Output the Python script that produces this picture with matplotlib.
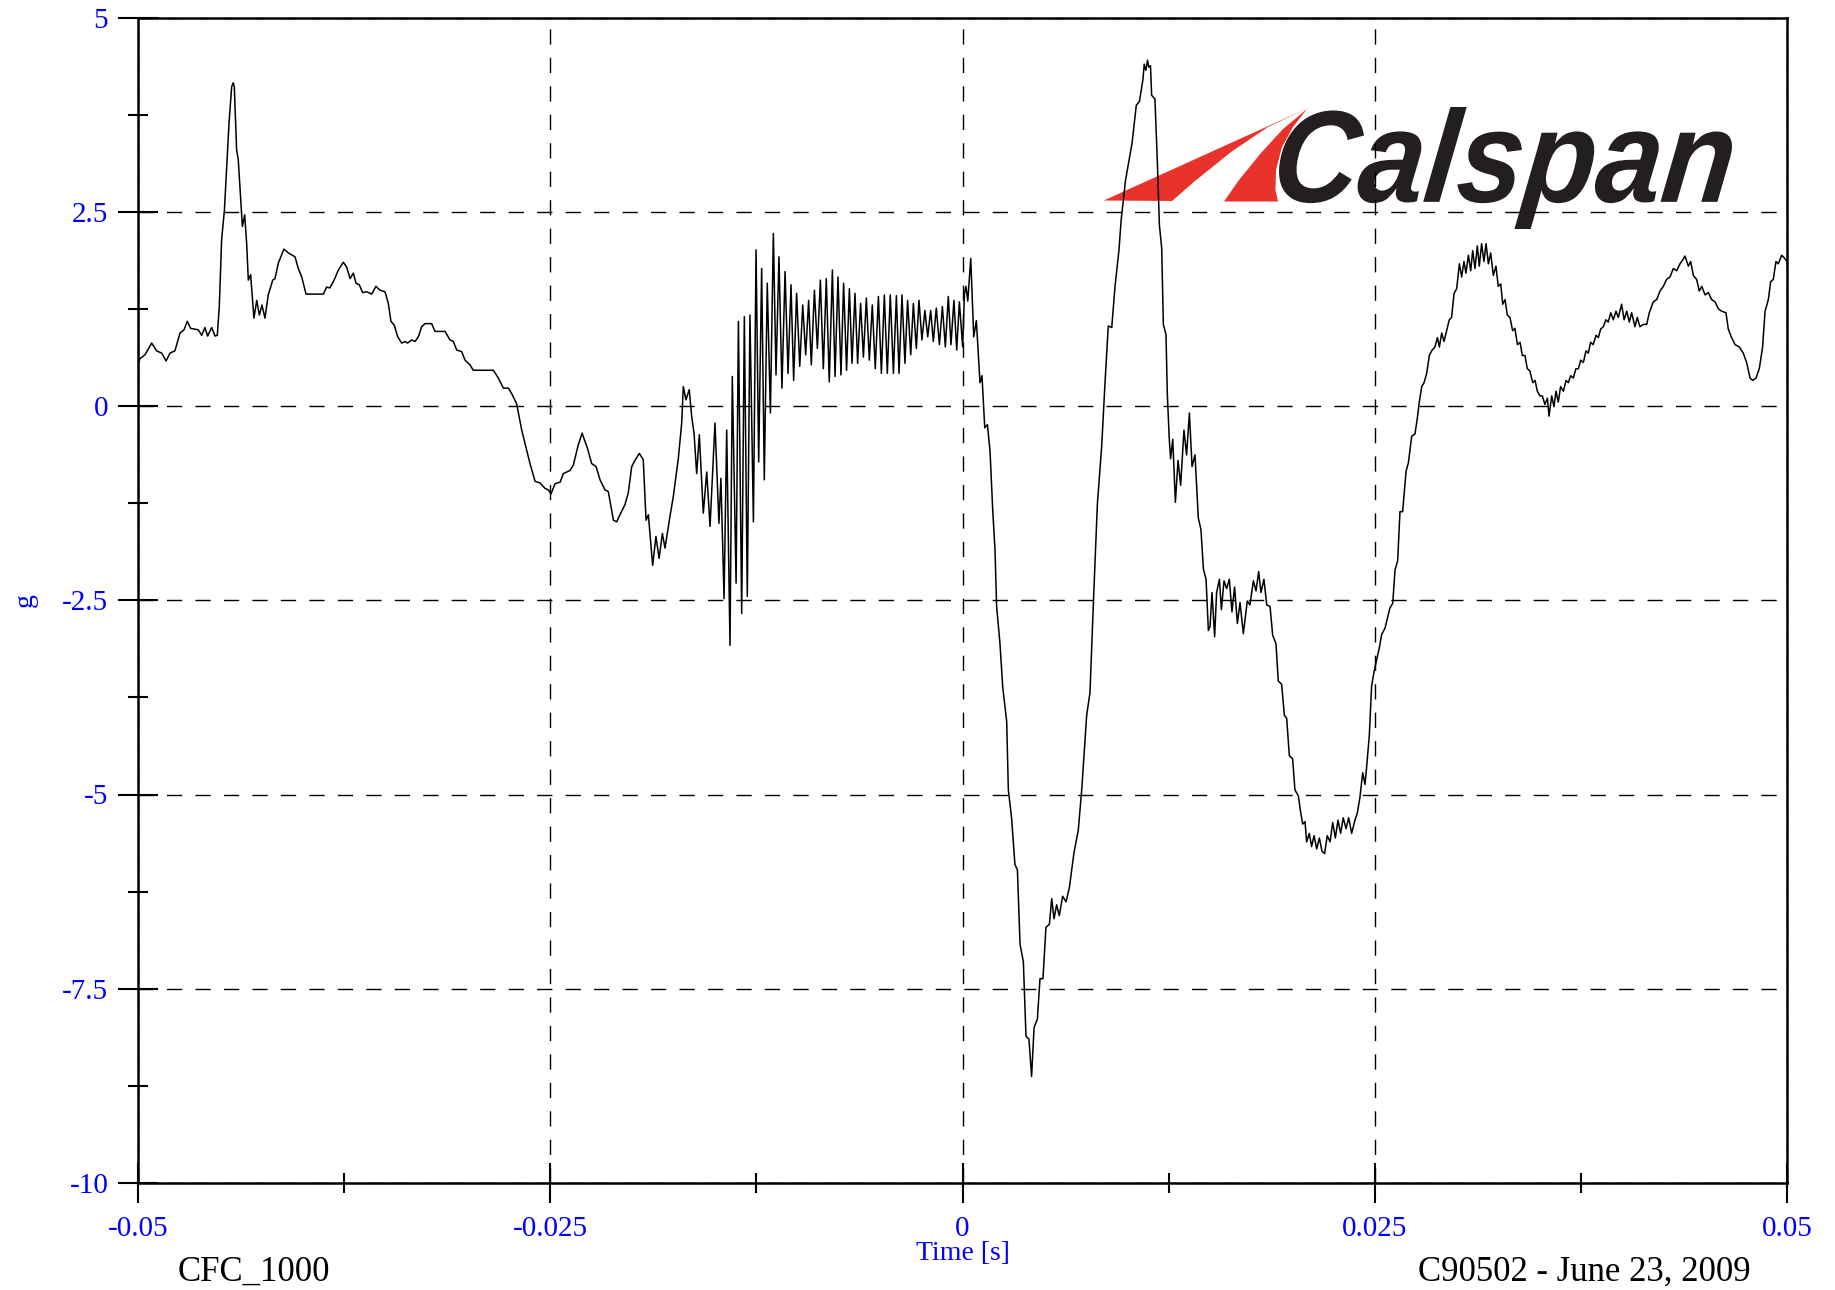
import matplotlib.pyplot as plt
import numpy as np
from matplotlib.patches import Polygon, PathPatch
from matplotlib.textpath import TextPath
from matplotlib.font_manager import FontProperties
from matplotlib.transforms import Affine2D
from matplotlib.ticker import MultipleLocator

plt.rcParams['font.family'] = ['Liberation Serif', 'DejaVu Serif']

# Acceleration trace (time in ms, acceleration in g)
time_ms = [
    -50.0, -49.88, -49.57, -49.17, -48.87, -48.56, -48.30, -48.06, -47.76, -47.45,
    -47.21, -47.01, -46.81, -46.34, -46.14, -45.94, -45.78, -45.53, -45.33, -45.19,
    -45.07, -44.93, -44.76, -44.62, -44.48, -44.32, -44.22, -44.16, -44.02, -43.92,
    -43.67, -43.53, -43.41, -43.31, -43.17, -42.97, -42.80, -42.64, -42.48, -42.30,
    -42.10, -41.83, -41.69, -41.49, -41.15, -40.88, -40.48, -40.28, -40.07, -39.81,
    -38.76, -38.56, -38.36, -38.11, -37.85, -37.55, -37.35, -37.14, -36.94, -36.78,
    -36.58, -36.38, -36.13, -35.83, -35.57, -35.33, -35.02, -34.82, -34.66, -34.46,
    -34.25, -34.01, -33.81, -33.65, -33.40, -33.20, -33.00, -32.80, -32.60, -32.19,
    -31.99, -31.38, -31.08, -30.88, -30.67, -30.37, -30.17, -29.87, -29.67, -28.45,
    -28.15, -27.84, -27.54, -27.34, -27.04, -26.73, -26.43, -26.23, -25.92, -25.62,
    -25.32, -25.12, -24.95, -24.71, -24.40, -24.21, -23.80, -23.60, -23.30, -23.07,
    -22.75, -22.49, -22.22, -21.98, -21.68, -21.48, -21.17, -20.97, -20.73, -20.47,
    -20.27, -20.06, -19.86, -19.60, -19.36, -19.19, -19.05, -18.79, -18.59, -18.40,
    -18.20, -18.04, -17.74, -17.54, -17.23, -17.03, -16.93, -16.77, -16.57, -16.42,
    -16.28, -16.12, -15.96, -15.72, -15.51, -15.31, -15.01, -14.77, -14.65, -14.46,
    -14.30, -14.10, -13.96, -13.73, -13.59, -13.39, -13.23, -13.05, -12.89, -12.68,
    -12.52, -12.36, -12.18, -12.02, -11.84, -11.65, -11.47, -11.31, -11.13, -10.95,
    -10.76, -10.58, -10.40, -10.24, -10.06, -9.87, -9.69, -9.51, -9.33, -9.17,
    -8.98, -8.80, -8.62, -8.44, -8.26, -8.08, -7.89, -7.73, -7.55, -7.37,
    -7.21, -7.03, -6.86, -6.70, -6.52, -6.36, -6.18, -6.01, -5.83, -5.65,
    -5.47, -5.29, -5.10, -4.92, -4.74, -4.56, -4.38, -4.19, -4.01, -3.85,
    -3.67, -3.49, -3.33, -3.14, -2.98, -2.80, -2.64, -2.46, -2.28, -2.11,
    -1.93, -1.77, -1.59, -1.40, -1.22, -1.04, -0.86, -0.70, -0.52, -0.35,
    -0.19, 0.01, 0.12, 0.21, 0.32, 0.50, 0.68, 0.84, 1.06, 1.18,
    1.35, 1.51, 1.67, 1.83, 1.97, 2.07, 2.27, 2.44, 2.68, 2.78,
    2.98, 3.18, 3.33, 3.49, 3.69, 3.85, 4.03, 4.19, 4.34, 4.54,
    4.70, 4.88, 5.06, 5.27, 5.41, 5.55, 5.71, 5.87, 6.07, 6.28,
    6.48, 6.76, 7.02, 7.23, 7.53, 7.73, 7.97, 8.18, 8.44, 8.64,
    8.84, 9.05, 9.25, 9.49, 9.62, 9.89, 10.28, 10.54, 10.73, 10.94,
    11.02, 11.12, 11.22, 11.30, 11.40, 11.47, 11.67, 11.82, 11.94, 12.08,
    12.18, 12.34, 12.42, 12.54, 12.62, 12.75, 12.91, 13.07, 13.23, 13.43,
    13.59, 13.76, 13.92, 14.10, 14.30, 14.46, 14.61, 14.77, 14.91, 15.01,
    15.13, 15.29, 15.41, 15.58, 15.70, 15.86, 16.02, 16.18, 16.34, 16.50,
    16.67, 16.83, 17.03, 17.27, 17.43, 17.64, 17.80, 17.96, 18.10, 18.28,
    18.45, 18.65, 18.81, 19.01, 19.15, 19.35, 19.52, 19.66, 19.82, 20.02,
    20.16, 20.37, 20.50, 20.63, 20.77, 20.87, 21.03, 21.17, 21.32, 21.48,
    21.64, 21.80, 21.96, 22.12, 22.29, 22.45, 22.61, 22.77, 22.93, 23.09,
    23.26, 23.42, 23.60, 23.80, 23.94, 24.10, 24.27, 24.41, 24.51, 24.67,
    24.81, 24.95, 25.12, 25.28, 25.42, 25.62, 25.76, 25.92, 26.09, 26.23,
    26.39, 26.53, 26.69, 26.90, 27.04, 27.24, 27.44, 27.58, 27.70, 27.85,
    27.99, 28.15, 28.31, 28.45, 28.65, 28.80, 28.92, 29.06, 29.20, 29.36,
    29.52, 29.66, 29.81, 29.97, 30.13, 30.27, 30.41, 30.53, 30.68, 30.82,
    30.94, 31.08, 31.22, 31.34, 31.48, 31.62, 31.75, 31.89, 32.03, 32.19,
    32.35, 32.49, 32.64, 32.76, 32.90, 33.04, 33.20, 33.36, 33.50, 33.65,
    33.81, 33.95, 34.11, 34.25, 34.41, 34.58, 34.72, 34.86, 35.02, 35.16,
    35.32, 35.47, 35.57, 35.73, 35.87, 35.99, 36.13, 36.27, 36.44, 36.60,
    36.74, 36.88, 37.04, 37.20, 37.35, 37.49, 37.65, 37.81, 37.95, 38.09,
    38.25, 38.42, 38.56, 38.70, 38.86, 39.02, 39.16, 39.31, 39.47, 39.63,
    39.77, 39.97, 40.12, 40.28, 40.44, 40.58, 40.78, 40.92, 41.08, 41.29,
    41.49, 41.65, 41.89, 42.10, 42.30, 42.50, 42.70, 42.90, 43.11, 43.31,
    43.51, 43.71, 43.81, 44.02, 44.16, 44.32, 44.52, 44.68, 44.83, 45.03,
    45.23, 45.43, 45.64, 45.84, 46.04, 46.30, 46.44, 46.64, 46.85, 47.11,
    47.35, 47.55, 47.76, 47.92, 48.12, 48.32, 48.52, 48.67, 48.87, 49.01,
    49.17, 49.33, 49.47, 49.68, 49.82, 50.00,
]
accel_g = [
    0.53, 0.61, 0.66, 0.81, 0.71, 0.68, 0.58, 0.68, 0.71, 0.94,
    0.98, 1.09, 1.00, 0.98, 0.91, 1.01, 0.90, 1.01, 0.90, 0.91,
    1.28, 2.14, 2.52, 3.08, 3.64, 4.11, 4.16, 4.11, 3.30, 3.17,
    2.31, 2.46, 2.09, 1.62, 1.69, 1.13, 1.36, 1.17, 1.30, 1.13,
    1.43, 1.62, 1.64, 1.84, 2.02, 1.97, 1.92, 1.77, 1.66, 1.44,
    1.44, 1.53, 1.52, 1.62, 1.75, 1.85, 1.79, 1.64, 1.71, 1.58,
    1.56, 1.46, 1.47, 1.44, 1.54, 1.49, 1.47, 1.32, 1.09, 1.04,
    0.89, 0.81, 0.83, 0.81, 0.85, 0.83, 0.89, 1.02, 1.06, 1.06,
    0.96, 0.96, 0.85, 0.83, 0.72, 0.70, 0.59, 0.53, 0.46, 0.46,
    0.36, 0.23, 0.23, 0.16, 0.03, -0.31, -0.57, -0.74, -0.97, -0.99,
    -1.06, -1.08, -1.13, -1.00, -0.98, -0.87, -0.83, -0.76, -0.50, -0.35,
    -0.54, -0.74, -0.78, -0.95, -1.08, -1.10, -1.47, -1.49, -1.38, -1.27,
    -1.12, -0.78, -0.70, -0.61, -0.69, -1.47, -1.40, -2.05, -1.68, -1.96,
    -1.64, -1.83, -1.42, -1.17, -0.67, -0.22, 0.25, 0.08, 0.21, -0.14,
    -0.35, -0.87, -0.37, -1.38, -0.85, -1.55, -0.22, -1.51, -0.93, -2.48,
    -0.31, -3.08, 0.38, -2.28, 1.09, -2.67, 1.15, -2.45, 1.17, -1.49,
    2.01, -0.72, 1.77, -0.95, 1.58, -0.09, 2.22, 0.40, 1.92, 0.23,
    1.73, 0.42, 1.56, 0.33, 1.45, 0.51, 1.30, 0.66, 1.36, 0.53,
    1.49, 0.74, 1.62, 0.48, 1.64, 0.31, 1.75, 0.38, 1.66, 0.40,
    1.58, 0.46, 1.51, 0.55, 1.45, 0.55, 1.32, 0.63, 1.39, 0.59,
    1.30, 0.48, 1.41, 0.42, 1.43, 0.42, 1.43, 0.42, 1.42, 0.42,
    1.43, 0.55, 1.36, 0.66, 1.32, 0.74, 1.36, 0.85, 1.23, 0.89,
    1.23, 0.83, 1.26, 0.79, 1.28, 0.76, 1.41, 0.79, 1.36, 0.72,
    1.34, 0.76, 1.45, 1.54, 1.35, 1.90, 0.89, 1.10, 0.30, 0.39,
    -0.28, -0.24, -0.58, -1.33, -1.85, -2.58, -3.05, -3.62, -4.06, -4.94,
    -5.31, -5.90, -5.97, -6.93, -7.15, -8.11, -8.15, -8.63, -8.00, -7.89,
    -7.37, -7.37, -6.71, -6.67, -6.34, -6.60, -6.42, -6.56, -6.31, -6.38,
    -6.20, -5.75, -5.46, -4.94, -3.98, -3.69, -2.36, -1.26, -0.52, 0.29,
    1.03, 1.01, 1.54, 2.01, 2.39, 2.91, 3.38, 3.87, 3.92, 4.20,
    4.40, 4.32, 4.45, 4.36, 4.38, 4.00, 3.95, 3.12, 2.33, 2.03,
    1.05, 0.92, 0.16, -0.43, -0.68, -0.43, -1.24, -0.70, -1.02, -0.31,
    -0.63, -0.09, -0.78, -0.63, -1.44, -1.59, -2.10, -2.23, -2.89, -2.84,
    -2.40, -2.97, -2.40, -2.23, -2.62, -2.25, -2.35, -2.23, -2.65, -2.33,
    -2.80, -2.53, -2.93, -2.51, -2.56, -2.25, -2.38, -2.13, -2.40, -2.23,
    -2.56, -2.58, -2.95, -3.06, -3.54, -3.58, -3.98, -4.02, -4.50, -4.54,
    -4.94, -5.02, -5.22, -5.38, -5.35, -5.61, -5.50, -5.67, -5.53, -5.70,
    -5.56, -5.73, -5.76, -5.53, -5.61, -5.36, -5.56, -5.33, -5.50, -5.30,
    -5.44, -5.30, -5.50, -5.33, -5.24, -5.04, -4.72, -4.87, -4.64, -4.24,
    -3.60, -3.43, -3.26, -3.11, -2.94, -2.86, -2.74, -2.60, -2.54, -2.11,
    -1.99, -1.36, -1.36, -0.84, -0.73, -0.39, -0.36, -0.16, 0.05, 0.25,
    0.30, 0.42, 0.65, 0.71, 0.76, 0.88, 0.76, 0.94, 0.83, 0.97,
    1.11, 1.14, 1.45, 1.51, 1.83, 1.66, 1.86, 1.71, 1.94, 1.74,
    2.00, 1.77, 2.06, 1.80, 2.09, 1.86, 2.09, 1.83, 1.97, 1.68,
    1.80, 1.54, 1.57, 1.31, 1.37, 1.17, 1.14, 0.97, 1.00, 0.79,
    0.82, 0.65, 0.65, 0.48, 0.45, 0.30, 0.33, 0.19, 0.13, 0.13,
    0.02, 0.10, -0.13, 0.13, -0.01, 0.19, 0.05, 0.25, 0.19, 0.33,
    0.30, 0.39, 0.36, 0.48, 0.48, 0.59, 0.56, 0.71, 0.68, 0.82,
    0.79, 0.91, 0.88, 0.99, 1.02, 1.11, 1.08, 1.20, 1.11, 1.22,
    1.14, 1.31, 1.11, 1.22, 1.08, 1.20, 1.02, 1.14, 1.02, 1.05,
    1.05, 1.20, 1.34, 1.37, 1.48, 1.54, 1.63, 1.66, 1.77, 1.74,
    1.83, 1.89, 1.93, 1.80, 1.86, 1.68, 1.63, 1.48, 1.54, 1.43,
    1.46, 1.37, 1.34, 1.25, 1.22, 1.20, 0.99, 0.88, 0.79, 0.76,
    0.68, 0.56, 0.36, 0.33, 0.36, 0.48, 0.76, 1.22, 1.37, 1.60,
    1.63, 1.86, 1.83, 1.94, 1.91, 1.86,
]

x_ticks = [-0.05, -0.025, 0, 0.025, 0.05]
x_tick_labels = ['-0.05', '-0.025', '0', '0.025', '0.05']
y_ticks = [5, 2.5, 0, -2.5, -5, -7.5, -10]
y_tick_labels = ['5', '2.5', '0', '-2.5', '-5', '-7.5', '-10']

fig = plt.figure(figsize=(18.35, 12.9), dpi=100)
ax = fig.add_axes([138 / 1835, 107 / 1290, 1649 / 1835, 1165.5 / 1290])

time_s = np.array(time_ms) / 1000.0
ax.plot(time_s, accel_g, color='black', linewidth=1.1, zorder=3)

ax.set_xlim(-0.05, 0.05)
ax.set_ylim(-10, 5)
ax.set_xticks(x_ticks)
ax.set_xticklabels(x_tick_labels)
ax.set_yticks(y_ticks)
ax.set_yticklabels(y_tick_labels)
ax.xaxis.set_minor_locator(MultipleLocator(0.0125))
ax.yaxis.set_minor_locator(MultipleLocator(1.25))
ax.tick_params(which='major', direction='inout', length=28.8, width=1.5,
               labelsize=21, labelcolor='blue', pad=7)
ax.tick_params(axis='x', which='major', pad=9.5)
ax.tick_params(which='minor', direction='inout', length=14.4, width=1.5)
ax.tick_params(which='both', top=False, right=False)
ax.grid(which='major', color='black', linewidth=1.0, linestyle=(0, (11, 9.5)))
for spine in ax.spines.values():
    spine.set_linewidth(1.8)

ax.set_xlabel('Time [s]', fontsize=20, color='blue')
ax.xaxis.set_label_coords(0.5, -0.050)
ax.set_ylabel('g', fontsize=20, color='blue')
ax.yaxis.set_label_coords(-0.061, 0.5)

# Calspan logo, laid out in image pixels and mapped into the axes
to_axes = Affine2D().translate(-138, -1183).scale(1 / 1649, -1 / 1165.5) + ax.transAxes
red = '#e8322b'
blade_a = [(1103.8, 200.5), (1307.0, 108.5), (1268.0, 127.0), (1231.0, 152.0),
           (1195.0, 181.0), (1172.0, 201.0)]
blade_b = [(1224.0, 201.5), (1239.0, 180.0), (1261.0, 153.0), (1283.0, 129.0),
           (1307.0, 109.0), (1293.0, 127.0), (1282.0, 147.0), (1276.0, 170.0),
           (1275.5, 190.0), (1278.0, 201.5)]
for blade in (blade_a, blade_b):
    ax.add_patch(Polygon(blade, closed=True, facecolor=red, edgecolor='none',
                         transform=to_axes, zorder=1, clip_on=False))

fp = FontProperties(family='Liberation Sans', weight='bold', style='italic')
word = TextPath((0, 0), 'Calspan', prop=fp, size=100)
word = word.transformed(Affine2D().skew_deg(7, 0))
ext = word.get_extents()
fit = (Affine2D().translate(-ext.x0, -ext.y0)
       .scale((1732 - 1279) / ext.width, -(229 - 107) / ext.height)
       .translate(1279, 229))
ax.add_patch(PathPatch(word, facecolor='#231f20', edgecolor='none',
                       transform=fit + to_axes, zorder=1, clip_on=False))

fig.text(178 / 1835, 9 / 1290, 'CFC_1000', fontsize=25, va='baseline')
fig.text(1751 / 1835, 9 / 1290, 'C90502 - June 23, 2009', fontsize=25,
         ha='right', va='baseline')

fig.savefig('out.png', dpi=100)
